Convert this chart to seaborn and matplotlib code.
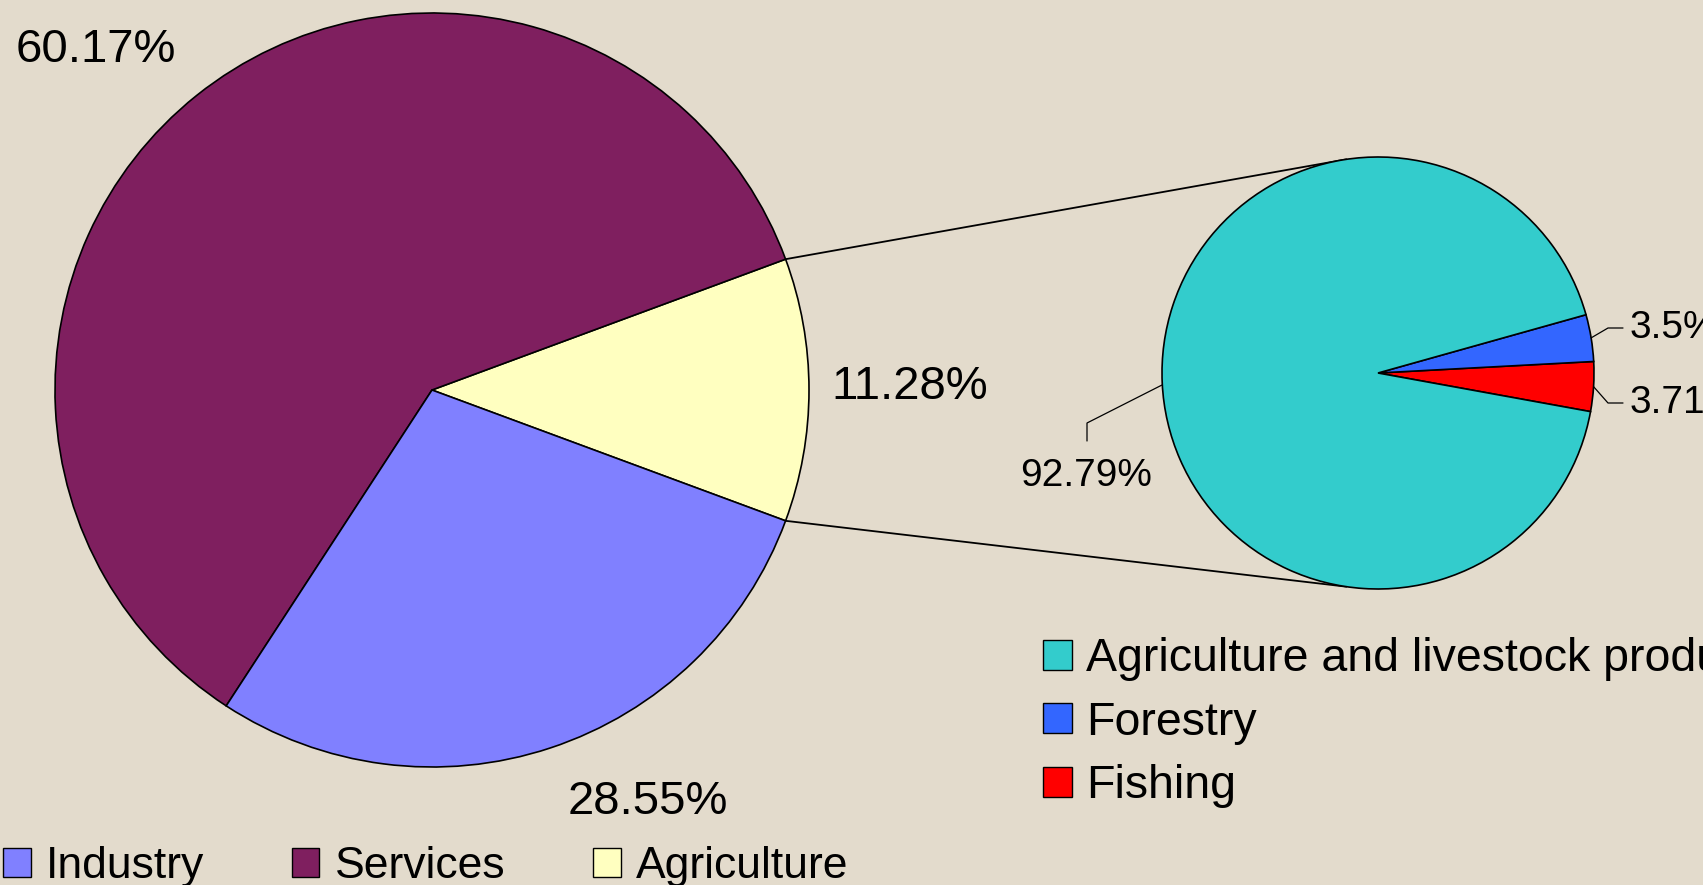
import numpy as np
import matplotlib.pyplot as plt
from matplotlib.patches import Patch
import seaborn as sns

# data: economy by sector, and breakdown of agriculture
sectors = ["Agriculture", "Services", "Industry"]
sector_share = [11.28, 60.17, 28.55]
sector_colors = ["#FFFFC0", "#7F1F5F", "#8080FF"]

agri_parts = ["Fishing", "Forestry", "Agriculture and livestock production"]
agri_share = [3.71, 3.5, 92.79]
agri_colors = ["#FF0000", "#3366FF", "#33CCCC"]

legend_main = ["Industry", "Services", "Agriculture"]
legend_agri = ["Agriculture and livestock production", "Forestry", "Fishing"]

W, H = 1703, 885
bg = "#E3DBCC"

sns.set_style("white")
plt.rcParams["font.family"] = ["Liberation Sans", "DejaVu Sans"]
plt.rcParams["text.color"] = "black"

fig = plt.figure(figsize=(W / 100, H / 100), dpi=100, facecolor=bg)
ax = fig.add_axes([0, 0, 1, 1])
ax.set_facecolor(bg)

edge = dict(edgecolor="black", linewidth=1.2)

# main pie, agriculture slice centred on the right side
main_c, main_r = (432, 495), 377
start_main = -sector_share[0] / 100 * 360 / 2
w_main, _ = ax.pie(sector_share, colors=sector_colors, startangle=start_main,
                   center=main_c, radius=main_r, wedgeprops=edge, frame=True)

# agriculture breakdown pie
small_c, small_r = (1378, 512), 216
w_small, _ = ax.pie(agri_share, colors=agri_colors, startangle=-10.3,
                    center=small_c, radius=small_r, wedgeprops=edge, frame=True)


def on_circle(c, r, ang):
    a = np.deg2rad(ang)
    return c[0] + r * np.cos(a), c[1] + r * np.sin(a)


# connector lines between the pies
agri_w = w_main[0]
for a_main, a_small in [(agri_w.theta2, 98.4), (agri_w.theta1, -98.4)]:
    x0, y0 = on_circle(main_c, main_r, a_main)
    x1, y1 = on_circle(small_c, small_r, a_small)
    ax.plot([x0, x1], [y0, y1], color="black", lw=1.3, zorder=0)

pct = lambda v: f"{v:g}%"

# main labels
ax.text(96, H - 50, pct(sector_share[1]), fontsize=34, ha="center", va="center")
ax.text(910, H - 387, pct(sector_share[0]), fontsize=34, ha="center", va="center")
ax.text(648, H - 802, pct(sector_share[2]), fontsize=34, ha="center", va="center")

# small pie labels with leader lines
ax.text(1086, H - 476, pct(agri_share[2]), fontsize=28, ha="center", va="center")
ax.plot([1162, 1087, 1087], [H - 385, H - 423, H - 441], color="black", lw=0.9)

for w, v, ty in [(w_small[1], agri_share[1], 328), (w_small[0], agri_share[0], 403)]:
    mid = (w.theta1 + w.theta2) / 2
    x0, y0 = on_circle(small_c, small_r, mid)
    ax.plot([x0, 1608, 1623], [y0, H - ty, H - ty], color="black", lw=0.9)
    ax.text(1630, H - ty, pct(v), fontsize=28, ha="left", va="center")

ax.set_xlim(0, W)
ax.set_ylim(0, H)
ax.set_aspect("equal")
ax.axis("off")

# legends
lut_main = dict(zip(sectors, sector_colors))
lut_agri = dict(zip(agri_parts, agri_colors))
h_main = [Patch(facecolor=lut_main[s], edgecolor="black", lw=1) for s in legend_main]
h_agri = [Patch(facecolor=lut_agri[s], edgecolor="black", lw=1) for s in legend_agri]

fig.legend(h_main, legend_main, loc="lower left", bbox_to_anchor=(3 / W, -0.002),
           ncol=3, frameon=False, fontsize=32, handlelength=0.62, handleheight=0.62,
           handletextpad=0.35, columnspacing=1.97, borderpad=0, borderaxespad=0)
fig.legend(h_agri, legend_agri, loc="upper left", bbox_to_anchor=(1043 / W, 1 - 637 / H),
           frameon=False, fontsize=33.5, handlelength=0.62, handleheight=0.62,
           handletextpad=0.3, labelspacing=0.42, borderpad=0, borderaxespad=0)

fig.savefig("out.png", dpi=100, facecolor=bg)
